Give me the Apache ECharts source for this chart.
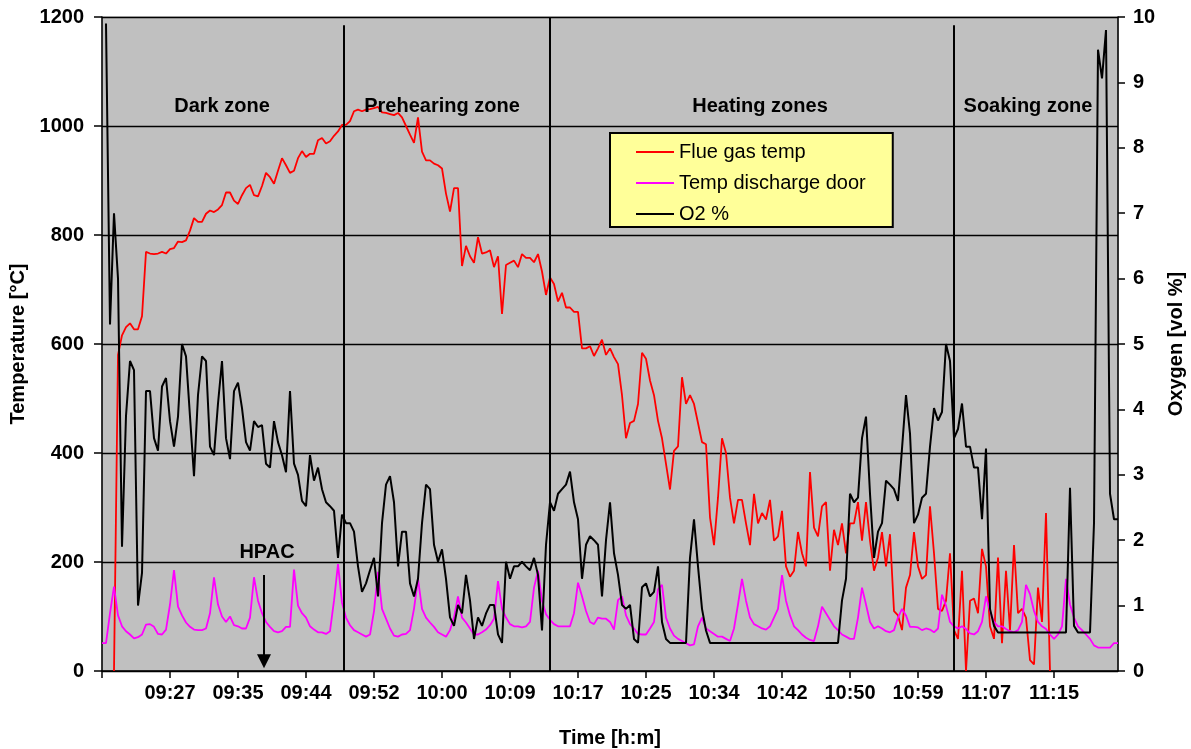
<!DOCTYPE html>
<html><head><meta charset="utf-8">
<script src="https://cdn.jsdelivr.net/npm/echarts/dist/echarts.min.js"></script>
<style>html,body{margin:0;padding:0;background:#fff}#c{width:1191px;height:749px}</style>
</head><body><div id="c"></div>
<script>
// sample index step: 17 samples per time tick
const timeLabels = ['', '09:27','09:35','09:44','09:52','10:00','10:09','10:17','10:25','10:34','10:42','10:50','10:59','11:07','11:15'];
const samplesPerTick = 17;
const sampleCount = 255;

const flueGasTemp = [
 null,null,null,0,580,616,631,638,627,627,
 651,769,766,765,766,769,766,774,776,788,
 787,790,808,831,824,824,839,845,842,847,
 855,878,878,863,857,873,886,892,873,871,
 890,914,906,894,918,941,928,914,918,941,
 954,943,949,949,974,978,968,972,982,990,
 1002,1002,1009,1027,1030,1027,1030,1031,1033,1035,
 1025,1024,1022,1020,1024,1016,1000,984,969,1016,
 953,937,937,931,928,922,876,843,886,886,
 743,780,761,749,796,766,768,772,741,761,
 655,745,749,753,741,765,758,758,750,765,
 733,690,722,710,678,694,667,667,659,659,
 592,592,596,578,592,608,580,592,576,563,
 506,427,455,459,490,584,573,533,506,459,
 427,380,333,404,412,539,490,506,490,455,
 420,416,282,231,318,427,400,318,271,314,
 314,271,231,325,271,290,278,314,239,247,
 294,192,173,184,255,216,192,365,263,247,
 302,310,184,259,231,271,216,271,271,310,
 239,310,239,184,208,255,192,251,110,102,
 75,153,176,255,192,169,176,302,216,114,
 110,129,216,75,59,184,0,129,133,106,
 224,192,82,59,208,51,184,75,231,106,
 114,98,20,12,153,90,290,0,null,null,
 null,null,null,null,null,null,null,null,null,null,
 null,null,null,null,null
];

const dischargeDoorTemp = [
 51,51,106,155,102,82,73,67,60,62,
 67,85,86,81,68,67,76,122,185,118,
 102,89,81,76,75,75,78,106,172,122,
 100,90,100,84,82,78,78,98,172,129,
 106,90,81,73,71,73,81,81,186,120,
 106,98,82,76,71,71,68,73,129,196,
 125,98,84,75,71,67,63,67,110,182,
 114,96,78,65,63,67,68,75,114,169,
 114,98,89,81,71,67,63,75,98,137,
 98,89,78,67,67,71,76,84,96,165,
 114,98,86,82,82,80,82,90,153,184,
 129,104,94,86,82,82,82,82,106,162,
 137,110,90,86,98,96,96,90,76,130,
 137,102,86,78,68,67,67,78,90,150,
 158,98,78,65,59,55,51,47,49,82,
 98,78,73,68,63,63,59,55,78,122,
 169,129,98,86,82,78,76,82,98,114,
 176,129,102,82,75,67,61,57,55,82,
 118,106,94,82,75,67,63,59,59,98,
 153,122,90,78,82,78,73,71,75,98,
 114,102,81,81,80,75,78,76,71,78,
 140,120,90,82,78,82,77,69,67,73,
 90,137,110,90,82,82,77,73,71,75,
 90,158,141,110,90,82,77,67,59,67,
 82,169,122,98,82,75,67,59,47,43,
 43,43,43,51,51
];

const oxygen = [
 null,9.9,5.3,7.0,6.0,1.9,3.9,4.74,4.6,1.0,
 1.5,4.28,4.28,3.56,3.37,4.35,4.48,3.82,3.43,3.89,
 5.0,4.81,3.89,2.98,4.22,4.81,4.74,3.43,3.3,4.09,
 4.74,3.56,3.24,4.28,4.41,4.02,3.5,3.37,3.82,3.73,
 3.76,3.17,3.11,3.82,3.5,3.3,3.04,4.28,3.17,3.0,
 2.6,2.52,3.3,2.91,3.11,2.78,2.58,2.52,2.45,1.73,
 2.39,2.26,2.26,2.13,1.6,1.21,1.34,1.54,1.73,1.14,
 2.26,2.85,2.98,2.58,1.6,2.13,2.13,1.34,1.14,1.41,
 2.26,2.85,2.78,1.93,1.67,1.86,1.41,0.82,0.69,1.01,
 0.88,1.47,1.08,0.49,0.82,0.69,0.88,1.01,1.01,0.56,
 0.43,1.67,1.41,1.6,1.6,1.67,1.6,1.54,1.73,1.47,
 0.62,1.93,2.58,2.45,2.71,2.78,2.85,3.05,2.58,2.32,
 1.41,1.93,2.06,2.0,1.93,1.14,2.0,2.58,1.8,1.47,
 1.01,0.95,1.01,0.49,0.43,1.28,1.34,1.14,1.21,1.6,
 0.75,0.49,0.43,0.43,0.43,0.43,0.43,1.73,2.32,1.6,
 0.95,0.62,0.43,0.43,0.43,0.43,0.43,0.43,0.43,0.43,
 0.43,0.43,0.43,0.43,0.43,0.43,0.43,0.43,0.43,0.43,
 0.43,0.43,0.43,0.43,0.43,0.43,0.43,0.43,0.43,0.43,
 0.43,0.43,0.43,0.43,0.43,1.08,1.41,2.71,2.58,2.65,
 3.56,3.89,2.71,1.73,2.13,2.26,2.91,2.85,2.78,2.6,
 3.4,4.22,3.63,2.26,2.39,2.65,2.71,3.43,4.02,3.83,
 3.96,5.0,4.74,3.56,3.7,4.09,3.43,3.43,3.11,3.11,
 2.32,3.4,0.95,0.69,0.59,0.59,0.59,0.59,0.59,0.59,
 0.59,0.59,0.59,0.59,0.59,0.59,0.59,0.59,0.59,0.59,
 0.59,0.59,2.8,0.69,0.59,0.59,0.59,0.59,2.26,9.5,
 9.06,9.8,2.71,2.32,2.32
];

// annotations (in data units: sample index / °C)
const zoneNames = ['Dark zone', 'Prehearing zone', 'Heating zones', 'Soaking zone'];
const zoneNameX = [30, 85, 164.5, 231.5];
const zoneNameTemp = 1035;
const zoneBoundaryX = [60.5, 112, 213];
const zoneBoundaryTop = [1185, 1200, 1185];
const hpacLabel = 'HPAC';
const hpacX = 40.5;
const hpacLabelTemp = 218;
const hpacArrowTemp = [176, 18];

const FONT = '"Liberation Sans", Arial, Helvetica, sans-serif';
const boldText = {fontFamily: FONT, fontSize: 20, fontWeight: 'bold', color: '#000'};
const annoText = Object.assign({}, boldText, {opacity: 1, textBorderWidth: 0, textBorderColor: 'transparent', textShadowBlur: 0});

const toPairs = arr => arr.map((v, i) => v === null ? null : [i, v]).filter(p => p !== null);

const chart = echarts.init(document.getElementById('c'), null, {renderer: 'canvas'});
chart.setOption({
  animation: false,
  backgroundColor: '#ffffff',
  grid: {left: 102, right: 73, top: 17, bottom: 78, containLabel: false, outerBoundsMode: 'none',
         show: true, backgroundColor: '#c0c0c0', borderWidth: 1, borderColor: '#9a9a9a'},
  legend: {
    data: ['Flue gas temp', 'Temp discharge door', 'O2 %'],
    orient: 'vertical', left: 610, top: 133,
    backgroundColor: '#ffff99', borderColor: '#000', borderWidth: 2,
    padding: [9, 27, 3, 26], itemGap: 11, itemWidth: 38, itemHeight: 2,
    icon: 'rect', selectedMode: false,
    textStyle: {fontFamily: FONT, fontSize: 20, color: '#000'}
  },
  xAxis: {
    type: 'value', min: 0, max: sampleCount - 1, interval: samplesPerTick,
    axisLine: {onZero: false, lineStyle: {color: '#000', width: 1.5}},
    axisTick: {length: 7, lineStyle: {color: '#000', width: 1.5}},
    splitLine: {show: false},
    axisLabel: Object.assign({margin: 12, showMaxLabel: false, formatter: v => {
      const k = v / samplesPerTick;
      return Number.isInteger(k) && timeLabels[k] !== undefined ? timeLabels[k] : '';
    }}, boldText),
    name: 'Time [h:m]', nameLocation: 'middle', nameGap: 57, nameTextStyle: boldText
  },
  yAxis: [{
    type: 'value', min: 0, max: 1200, interval: 200, position: 'left',
    axisLine: {show: true, lineStyle: {color: '#000', width: 1.5}},
    axisTick: {show: true, length: 8, lineStyle: {color: '#000', width: 1.5}},
    splitLine: {show: true, lineStyle: {color: '#000', width: 1.3}},
    axisLabel: Object.assign({margin: 18, formatter: v => String(v)}, boldText),
    name: 'Temperature [°C]', nameLocation: 'middle', nameGap: 64, nameTextStyle: boldText
  }, {
    type: 'value', min: 0, max: 10, interval: 1, position: 'right',
    axisLine: {show: true, lineStyle: {color: '#000', width: 1.5}},
    axisTick: {show: true, length: 7, lineStyle: {color: '#000', width: 1.5}},
    splitLine: {show: false},
    axisLabel: Object.assign({margin: 15, formatter: v => String(v)}, boldText),
    name: 'Oxygen [vol %]', nameLocation: 'middle', nameGap: 46, nameTextStyle: boldText
  }],
  series: [{
    name: 'Flue gas temp', type: 'line', yAxisIndex: 0, z: 3,
    data: toPairs(flueGasTemp), showSymbol: false, symbol: 'none',
    color: '#ff0000', lineStyle: {color: '#ff0000', width: 1.8}
  }, {
    name: 'Temp discharge door', type: 'line', yAxisIndex: 0, z: 4,
    data: toPairs(dischargeDoorTemp), showSymbol: false, symbol: 'none',
    color: '#ff00ff', lineStyle: {color: '#ff00ff', width: 1.8}
  }, {
    name: 'O2 %', type: 'line', yAxisIndex: 1, z: 5,
    data: toPairs(oxygen), showSymbol: false, symbol: 'none',
    color: '#000000', lineStyle: {color: '#000000', width: 2}
  }, {
    name: 'zones', type: 'scatter', yAxisIndex: 0, z: 6, silent: true,
    symbolSize: 1, itemStyle: {color: '#c0c0c0', opacity: 1},
    data: zoneNames.map((n, k) => ({name: n, value: [zoneNameX[k], zoneNameTemp]})),
    label: Object.assign({show: true, position: 'inside', formatter: '{b}'}, annoText),
    emphasis: {disabled: true},
    markLine: {
      silent: true, symbol: 'none', label: {show: false},
      lineStyle: {color: '#000', width: 2, type: 'solid', opacity: 1},
      data: zoneBoundaryX.map((x, k) => [{coord: [x, zoneBoundaryTop[k]]}, {coord: [x, 0]}])
    }
  }, {
    name: 'hpac', type: 'scatter', yAxisIndex: 0, z: 6, silent: true,
    symbolSize: 1, itemStyle: {color: '#c0c0c0', opacity: 1},
    data: [{name: hpacLabel, value: [hpacX + 0.75, hpacLabelTemp]}],
    label: Object.assign({show: true, position: 'inside', formatter: '{b}'}, annoText),
    emphasis: {disabled: true},
    markLine: {
      silent: true, symbol: ['none', 'triangle'], symbolSize: 14, label: {show: false},
      lineStyle: {color: '#000', width: 2, type: 'solid', opacity: 1},
      itemStyle: {color: '#000'},
      data: [[{coord: [hpacX, hpacArrowTemp[0]]}, {coord: [hpacX, hpacArrowTemp[1]]}]]
    }
  }]
});
</script></body></html>
